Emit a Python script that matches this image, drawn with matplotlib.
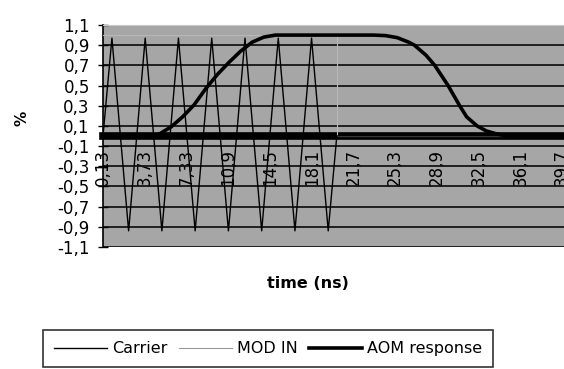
import numpy as np
import matplotlib
matplotlib.use('Agg')
import matplotlib.pyplot as plt
from matplotlib.lines import Line2D

# x axis categories (time in ns) and the labels Excel printed
tick_pos = [0.13, 3.73, 7.33, 10.93, 14.53, 18.13, 21.73, 25.33, 28.93, 32.53, 36.13, 39.73]
tick_labels = ['0,13', '3,73', '7,33', '10,9', '14,5', '18,1', '21,7', '25,3', '28,9', '32,5', '36,1', '39,7']
y_ticks = [1.1, 0.9, 0.7, 0.5, 0.3, 0.1, -0.1, -0.3, -0.5, -0.7, -0.9, -1.1]
y_labels = ['1,1', '0,9', '0,7', '0,5', '0,3', '0,1', '-0,1', '-0,3', '-0,5', '-0,7', '-0,9', '-1,1']

# carrier: peaks / troughs
carrier_t = [0.13, 0.90, 2.34, 3.77, 5.21, 6.64, 8.08, 9.51, 10.95, 12.38, 13.82, 15.25,
             16.69, 18.12, 19.56, 20.30, 39.73]
carrier_v = [0.0, 0.97, -0.94, 0.97, -0.94, 0.97, -0.94, 0.97, -0.94, 0.97, -0.94, 0.97,
             -0.94, 0.97, -0.94, 0.0, 0.0]

# modulation input (light line, barely visible on grey)
modin_t = [0.13, 20.30, 20.30, 39.73]
modin_v = [1.0, 1.0, 0.0, 0.0]

# AOM response envelope
aom_t = [0.13, 4.5, 5.0, 6.0, 7.0, 8.0, 9.0, 10.0, 11.0, 12.0, 13.0, 14.0, 15.0,
         23.5, 24.5, 25.5, 26.5, 27.0, 28.0, 28.75, 29.9, 30.9, 31.5, 32.4, 33.2, 34.1, 35.0, 39.73]
aom_v = [0.0, 0.0, 0.02, 0.09, 0.19, 0.31, 0.47, 0.61, 0.73, 0.84, 0.93, 0.98, 1.0,
         1.0, 0.995, 0.975, 0.93, 0.9, 0.8, 0.7, 0.5, 0.3, 0.19, 0.1, 0.05, 0.02, 0.0, 0.0]

plt.rcParams['font.family'] = 'DejaVu Sans'

W, H = 564, 369
fig = plt.figure(figsize=(W / 100, H / 100), dpi=100)
ax = fig.add_axes([103 / W, 1 - 247 / H, (W - 103) / W, (247 - 25) / H])
ax.set_facecolor('#a6a6a6')

ax.plot(modin_t, modin_v, color='#b8b8b8', lw=0.8, zorder=3)
ax.plot(carrier_t, carrier_v, color='black', lw=1.0, zorder=4)
ax.plot(aom_t, aom_v, color='black', lw=2.6, zorder=5)

ax.set_xlim(0.13, 39.9)
ax.set_ylim(-1.1, 1.1)

ax.set_yticks(y_ticks)
ax.set_yticklabels(y_labels, fontsize=12)
ax.tick_params(axis='y', direction='inout', length=7, width=1, pad=6)
ax.yaxis.grid(True, color='#151515', lw=1.3)
ax.set_axisbelow(True)

ax.spines['bottom'].set_position(('data', 0))
ax.spines['bottom'].set_linewidth(5.5)
ax.spines['bottom'].set_zorder(2)
ax.spines['top'].set_color('#c8c8c8')
ax.spines['right'].set_visible(False)
ax.spines['left'].set_linewidth(1.2)
ax.set_xticks(tick_pos)
ax.set_xticklabels(tick_labels, rotation=90, fontsize=12)
ax.tick_params(axis='x', length=0, pad=9)

fig.text(22 / W, 1 - 118 / H, '%', rotation=90, fontsize=11, fontweight='bold',
         ha='center', va='center')
fig.text(308 / W, 1 - 284 / H, 'time (ns)', fontsize=11.5, fontweight='bold',
         ha='center', va='center')

handles = [Line2D([], [], color='black', lw=1.0),
           Line2D([], [], color='#9a9a9a', lw=0.8),
           Line2D([], [], color='black', lw=2.6)]
leg = fig.legend(handles, ['Carrier', 'MOD IN', 'AOM response'], loc='upper left',
                 bbox_to_anchor=(43 / W, 1 - 330 / H), borderaxespad=0, ncol=3,
                 fontsize=11.5, frameon=True, fancybox=False, edgecolor='black',
                 handlelength=3.3, handletextpad=0.3, columnspacing=0.75, borderpad=0.7)
leg.get_frame().set_linewidth(1.2)

fig.savefig('out.png', dpi=100)
